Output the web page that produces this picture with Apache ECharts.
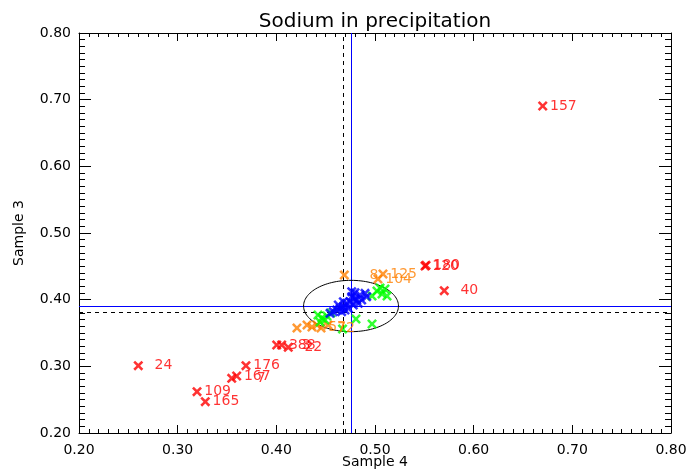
<!DOCTYPE html>
<html>
<head>
<meta charset="utf-8">
<script src="https://cdn.jsdelivr.net/npm/echarts@6/dist/echarts.min.js"></script>
<style>
  html, body { margin: 0; padding: 0; background: #fff; }
  #chart { width: 689px; height: 471px; }
</style>
</head>
<body>
<div id="chart"></div>
<script>
// Sodium in precipitation: sample 4 vs sample 3
const titleText = 'Sodium in precipitation';
const xName = 'Sample 4';
const yName = 'Sample 3';
const axisMin = 0.2, axisMax = 0.8, axisStep = 0.1;

// flagged sites (red, labelled)
const redX = [0.6700, 0.5507, 0.5517, 0.5702, 0.2601, 0.3692, 0.3598, 0.3548, 0.3196, 0.3280, 0.4004, 0.4054, 0.4121];
const redY = [0.6905, 0.4505, 0.4515, 0.4135, 0.3010, 0.3010, 0.2855, 0.2820, 0.2620, 0.2470, 0.3320, 0.3320, 0.3285];
const redLabels = ['157', '120', '180', '40', '24', '176', '167', '7', '109', '165', '3', '388', '22'];

// warning sites (orange, labelled)
const orangeX = [0.4689, 0.5081, 0.5030, 0.4209, 0.4311, 0.4361, 0.4412, 0.4453, 0.4524];
const orangeY = [0.4370, 0.4385, 0.4310, 0.3575, 0.3620, 0.3590, 0.3620, 0.3575, 0.3620];
const orangeLabels = ['8', '125', '104', '', '', '57', '', '72', ''];

// accepted sites (green)
const greenX = [0.4970, 0.5020, 0.5071, 0.5122, 0.5051, 0.5101, 0.4807, 0.4970, 0.4671, 0.4422, 0.4463, 0.4493, 0.4443, 0.4513, 0.4554];
const greenY = [0.4055, 0.4130, 0.4085, 0.4055, 0.4175, 0.4160, 0.3710, 0.3635, 0.3560, 0.3770, 0.3725, 0.3695, 0.3665, 0.3755, 0.3800];

// core sites (blue)
const blueX = [0.4899, 0.4848, 0.4797, 0.4764, 0.4815, 0.4747, 0.4713, 0.4679, 0.4645, 0.4612, 0.4577, 0.4544, 0.4780, 0.4831, 0.4865, 0.4696, 0.4729, 0.4628, 0.4916, 0.4764, 0.4662, 0.4679, 0.4797];
const blueY = [0.4095, 0.4070, 0.4105, 0.4045, 0.3995, 0.3970, 0.3945, 0.3895, 0.3870, 0.3845, 0.3820, 0.3795, 0.3920, 0.3945, 0.3995, 0.3845, 0.3870, 0.3920, 0.4045, 0.4120, 0.3820, 0.3970, 0.4020];

// reference values: means (blue) and medians (dashed), plus the spread ellipse
const meanX = 0.4757, meanY = 0.3905;
const medianX = 0.4672, medianY = 0.3815;
const ellipseRx = 0.0481, ellipseRy = 0.0385;

const FONT = 'DejaVu Sans';
const crossPath = 'path://M0,1.8L1.8,0L5,3.2L8.2,0L10,1.8L6.8,5L10,8.2L8.2,10L5,6.8L1.8,10L0,8.2L3.2,5Z';
const SYM = 10;

function points(xs, ys, labels) {
  return xs.map((x, i) => ({ value: [x, ys[i]], name: labels ? labels[i] : '' }));
}

function crossSeries(name, xs, ys, labels, color) {
  return {
    name: name,
    type: 'scatter',
    symbol: crossPath,
    symbolSize: SYM,
    itemStyle: { color: color },
    emphasis: { disabled: true },
    data: points(xs, ys, labels),
    label: {
      show: !!labels,
      formatter: '{b}',
      position: [SYM / 2 + 34, SYM / 2],
      align: 'right',
      verticalAlign: 'middle',
      color: color,
      fontFamily: FONT,
      fontSize: 14
    },
    labelLayout: { hideOverlap: false },
    z: 3
  };
}

// full-span guide lines: [orientation, value] rows; snapped to the pixel grid so they stay crisp
function guides(name, color, dash, rows) {
  return {
    name: name,
    type: 'custom',
    coordinateSystem: 'cartesian2d',
    silent: true,
    data: rows,
    renderItem: function (params, api) {
      const vertical = api.value(0) === 0;
      const v = api.value(1);
      const a = vertical ? api.coord([v, axisMin]) : api.coord([axisMin, v]);
      const b = vertical ? api.coord([v, axisMax]) : api.coord([axisMax, v]);
      const shape = vertical
        ? { x1: Math.round(a[0]) + 0.5, y1: a[1], x2: Math.round(a[0]) + 0.5, y2: b[1] }
        : { x1: a[0], y1: Math.round(a[1]) + 0.5, x2: b[0], y2: Math.round(a[1]) + 0.5 };
      return {
        type: 'line',
        shape: shape,
        style: { stroke: color, lineWidth: 1, lineDash: dash }
      };
    },
    z: 2
  };
}

const tickLabel = { fontFamily: FONT, fontSize: 14, color: '#000' };

function xAxisDef(pos, showLabel) {
  return {
    type: 'value', position: pos, min: axisMin, max: axisMax, interval: axisStep,
    name: showLabel ? xName : '', nameLocation: 'middle', nameGap: 22, nameMoveOverlap: false,
    nameTextStyle: { fontFamily: FONT, fontSize: 14, color: '#000', verticalAlign: 'top' },
    axisLine: { show: true, onZero: false, lineStyle: { color: '#000', width: 1 } },
    axisTick: { show: true, inside: true, length: 8, lineStyle: { color: '#000' } },
    minorTick: { show: true, splitNumber: 10, length: 4, lineStyle: { color: '#000' } },
    axisLabel: { show: showLabel, margin: 10, formatter: v => v.toFixed(2), ...tickLabel },
    splitLine: { show: false }
  };
}
function yAxisDef(pos, showLabel) {
  return {
    type: 'value', position: pos, min: axisMin, max: axisMax, interval: axisStep,
    name: showLabel ? yName : '', nameLocation: 'middle', nameGap: 53, nameRotate: 90,
    nameMoveOverlap: false,
    nameTextStyle: { fontFamily: FONT, fontSize: 14, color: '#000' },
    axisLine: { show: true, onZero: false, lineStyle: { color: '#000', width: 1 } },
    axisTick: { show: true, inside: true, length: 12, lineStyle: { color: '#000' } },
    minorTick: { show: true, splitNumber: 10, length: 6, lineStyle: { color: '#000' } },
    axisLabel: { show: showLabel, margin: 8, formatter: v => v.toFixed(2), ...tickLabel },
    splitLine: { show: false }
  };
}

const chart = echarts.init(document.getElementById('chart'), null, { renderer: 'canvas' });

chart.setOption({
  animation: false,
  backgroundColor: '#fff',
  title: {
    text: titleText, left: 375, top: 12, padding: 0, textAlign: 'center',
    textStyle: { fontFamily: FONT, fontSize: 20, fontWeight: 'normal', color: '#000' }
  },
  grid: { left: 79, right: 18, top: 33, bottom: 38, containLabel: false, outerBoundsMode: 'none' },
  xAxis: [xAxisDef('bottom', true), xAxisDef('top', false)],
  yAxis: [yAxisDef('left', true), yAxisDef('right', false)],
  series: [
    guides('median', '#000000', [4, 4], [[0, medianX], [1, medianY]]),
    guides('mean', '#0000ff', null, [[0, meanX], [1, meanY]]),
    {
      name: 'spread',
      type: 'custom',
      coordinateSystem: 'cartesian2d',
      silent: true,
      data: [[meanX, meanY, ellipseRx, ellipseRy]],
      renderItem: function (params, api) {
        const c = api.coord([api.value(0), api.value(1)]);
        const s = api.size([api.value(2), api.value(3)]);
        const pts = [];
        for (let k = 0; k < 120; k++) {
          const a = (k / 120) * Math.PI * 2;
          pts.push([c[0] + s[0] * Math.cos(a), c[1] + s[1] * Math.sin(a)]);
        }
        return {
          type: 'polygon',
          shape: { points: pts },
          style: { fill: 'none', stroke: '#000', lineWidth: 1 }
        };
      },
      z: 2
    },
    crossSeries('flagged', redX, redY, redLabels, '#ff0000'),
    crossSeries('warning', orangeX, orangeY, orangeLabels, '#ff8000'),
    crossSeries('accepted', greenX, greenY, null, '#00ff00'),
    crossSeries('core', blueX, blueY, null, '#0000ff')
  ]
});
</script>
</body>
</html>
